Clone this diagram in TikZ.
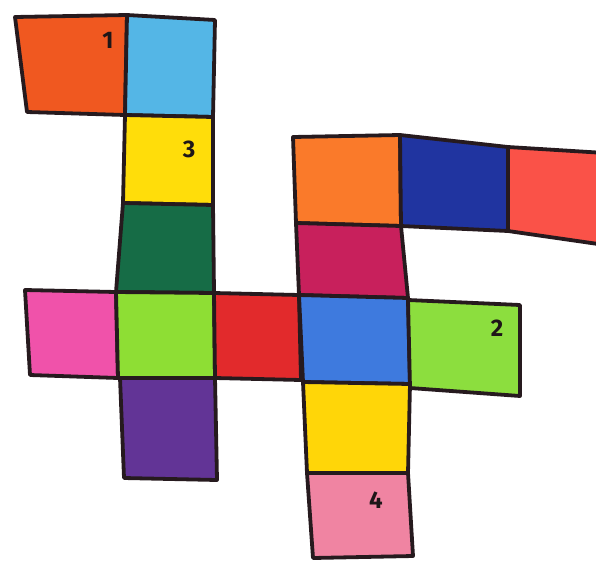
\documentclass[tikz,border=0pt]{standalone}
\usepackage{fontspec}
\setmainfont{Fira Sans}
\begin{document}
\begin{tikzpicture}[x=1pt,y=-1pt,
  cell/.style={draw=outl,line width=3.8pt,line join=round},
  lbl/.style={text=lblc,font=\fontsize{24}{24}\selectfont\bfseries,inner sep=0pt}]
\definecolor{outl}{RGB}{38,26,30}
\definecolor{lblc}{RGB}{30,22,24}
\definecolor{cOrangeA}{RGB}{240,88,32}
\definecolor{cLightBlue}{RGB}{84,182,230}
\definecolor{cYellowA}{RGB}{255,221,10}
\definecolor{cDarkGreen}{RGB}{22,108,70}
\definecolor{cPink}{RGB}{240,82,170}
\definecolor{cLime}{RGB}{142,222,52}
\definecolor{cRed}{RGB}{226,42,44}
\definecolor{cPurple}{RGB}{98,52,150}
\definecolor{cOrangeB}{RGB}{250,122,42}
\definecolor{cNavy}{RGB}{32,52,160}
\definecolor{cSalmon}{RGB}{250,82,72}
\definecolor{cMagenta}{RGB}{200,32,92}
\definecolor{cBlue}{RGB}{62,122,222}
\definecolor{cLimeB}{RGB}{140,222,62}
\definecolor{cYellowB}{RGB}{255,214,8}
\definecolor{cRose}{RGB}{240,132,162}
\useasboundingbox (0,0) rectangle (596,562);
\clip (0,0) rectangle (596,562);
% left structure
\filldraw[cell,fill=cOrangeA] (15,17) -- (127,15) -- (125,115) -- (27,112) -- cycle;
\filldraw[cell,fill=cLightBlue] (127,15) -- (215,20) -- (213,117) -- (125,115) -- cycle;
\filldraw[cell,fill=cYellowA] (125,115) -- (213,117) -- (213,205) -- (123,203) -- cycle;
\filldraw[cell,fill=cDarkGreen] (123,203) -- (213,205) -- (214,293) -- (116,292) -- cycle;
\filldraw[cell,fill=cPink] (25,290) -- (116,292) -- (118,378) -- (30,375) -- cycle;
\filldraw[cell,fill=cLime] (116,292) -- (214,293) -- (215,378) -- (118,378) -- cycle;
\filldraw[cell,fill=cRed] (214,293) -- (299,295) -- (301,380) -- (215,378) -- cycle;
\filldraw[cell,fill=cPurple] (120,378) -- (215,378) -- (217,480) -- (124,478) -- cycle;
% right structure
\filldraw[cell,fill=cOrangeB] (293,137) -- (400,135) -- (401,226) -- (296,223) -- cycle;
\filldraw[cell,fill=cNavy] (400,135) -- (508,147) -- (508,231) -- (401,226) -- cycle;
\filldraw[cell,fill=cSalmon] (508,147) -- (605,153) -- (605,245) -- (508,231) -- cycle;
\filldraw[cell,fill=cMagenta] (296,223) -- (401,226) -- (408,298) -- (299,295) -- cycle;
\filldraw[cell,fill=cBlue] (299,295) -- (408,298) -- (410,384) -- (303,382) -- cycle;
\filldraw[cell,fill=cLimeB] (408,300) -- (520,305) -- (520,396) -- (410,388) -- cycle;
\filldraw[cell,fill=cYellowB] (303,382) -- (410,384) -- (408,473) -- (307,473) -- cycle;
\filldraw[cell,fill=cRose] (307,473) -- (408,473) -- (413,556) -- (313,558) -- cycle;
% labels
\node[lbl] (n1) at (108,40) {1};
\node[lbl] (n3) at (189,149) {3};
\node[lbl] (n2) at (497,328) {2};
\node[lbl] (n4) at (376,500) {4};
\end{tikzpicture}
\end{document}
